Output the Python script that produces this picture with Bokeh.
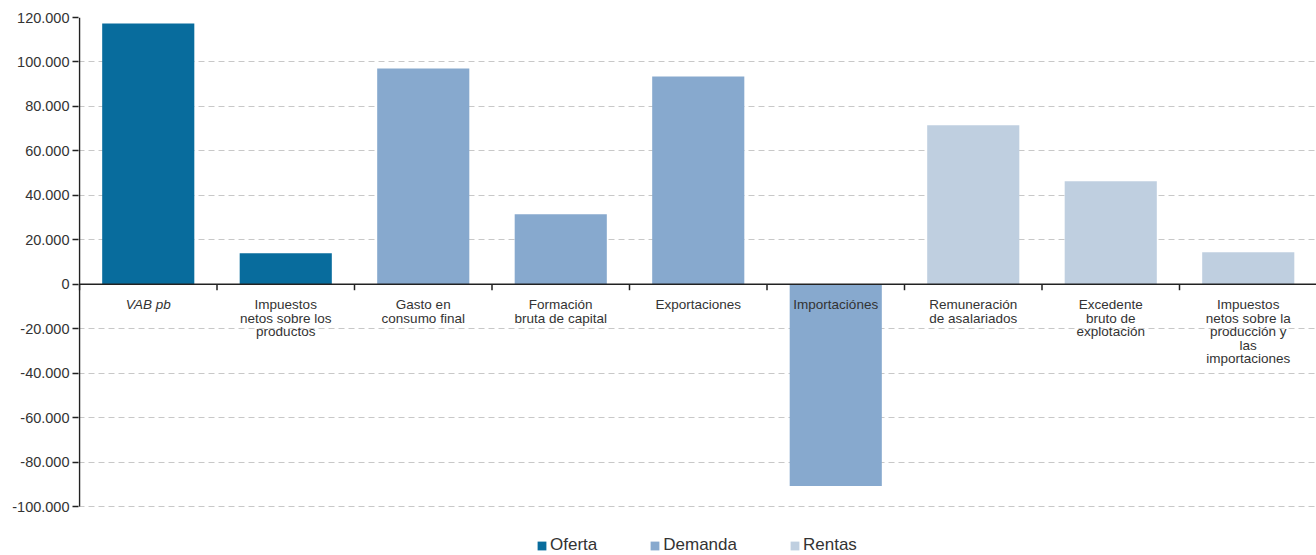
from bokeh.plotting import figure
from bokeh.models import (ColumnDataSource, Range1d, FixedTicker, CustomJSTickFormatter,
                          Span, Legend, LegendItem)
from bokeh.core.properties import value
from bokeh.embed import file_html
from bokeh.resources import INLINE

# ---- data ----
categories = [
    "VAB pb",
    "Impuestos\nnetos sobre los\nproductos",
    "Gasto en\nconsumo final",
    "Formación\nbruta de capital",
    "Exportaciones",
    "Importaciónes",
    "Remuneración\nde asalariados",
    "Excedente\nbruto de\nexplotación",
    "Impuestos\nnetos sobre la\nproducción y\nlas\nimportaciones",
]
values = [117300, 13900, 97100, 31500, 93500, -90800, 71500, 46300, 14400]
groups = ["Oferta", "Oferta", "Demanda", "Demanda", "Demanda", "Demanda",
          "Rentas", "Rentas", "Rentas"]
group_names = ["Oferta", "Demanda", "Rentas"]
group_colors = ["#086c9d", "#87a9ce", "#bfcfe0"]
label_styles = ["italic"] + ["normal"] * 8
y_ticks = [-100000, -80000, -60000, -40000, -20000, 0, 20000, 40000, 60000, 80000, 100000, 120000]

# ---- layout ----
W, H = 1316, 555
left_b, top_b = 78, 17
axis_px = 489            # pixel height of the tick span
band_px = 137.5          # pixel width of one category band
frame_w = W - left_b
frame_h = H - top_b
n = len(categories)
y0, y1 = y_ticks[0], y_ticks[-1]
per_px = (y1 - y0) / axis_px
y_start = y1 - frame_h * per_px
x_start = -1.0 / band_px
x_end = x_start + frame_w / band_px

p = figure(frame_width=frame_w, frame_height=frame_h, output_backend="svg", toolbar_location=None,
           x_range=Range1d(x_start, x_end), y_range=Range1d(y_start, y1),
           x_axis_location=None, min_border_left=left_b, min_border_right=0,
           min_border_top=top_b, min_border_bottom=0)
p.outline_line_color = None
p.xgrid.visible = False
p.ygrid.grid_line_color = "#c8c8c8"
p.ygrid.grid_line_dash = "6 4"
p.ygrid.grid_line_width = 1.2

ya = p.yaxis[0]
ya.ticker = FixedTicker(ticks=y_ticks)
ya.formatter = CustomJSTickFormatter(code="""
  const s = Math.abs(Math.round(tick)).toString().replace(/\\B(?=(\\d{3})+(?!\\d))/g, '.');
  return (tick < 0 ? '-' : '') + s;
""")
ya.axis_line_color = None
ya.major_tick_line_color = "#222222"
ya.major_tick_line_width = 1.5
ya.major_tick_out = 6
ya.major_tick_in = 0
ya.minor_tick_line_color = None
ya.major_label_text_font = "Liberation Sans"
ya.major_label_text_font_size = "14.5px"
ya.major_label_text_color = "#333333"
ya.major_label_standoff = 3

# y axis line limited to the tick span
p.segment(x0=[0], y0=[y0], x1=[0], y1=[y1], line_color="#222222", line_width=1.5)

renderers = []
for g, c in zip(group_names, group_colors):
    idx = [i for i in range(n) if groups[i] == g]
    src = ColumnDataSource(dict(x=[i + 0.5 for i in idx], top=[values[i] for i in idx]))
    r = p.vbar(x="x", top="top", bottom=0, width=0.67, source=src,
               fill_color=c, line_color=None)
    renderers.append(r)

# x axis line at zero
p.segment(x0=[0], y0=[0], x1=[n], y1=[0], line_color="#222222", line_width=1.5)

# ticks on zero line at category boundaries
tick_len = 6 * per_px
tsrc = ColumnDataSource(dict(x=list(range(n + 1)), y0=[0] * (n + 1), y1=[-tick_len] * (n + 1)))
p.segment(x0="x", y0="y0", x1="x", y1="y1", source=tsrc, line_color="#222222", line_width=1.5)

# category labels
lsrc = ColumnDataSource(dict(x=[i + 0.5 for i in range(n)], y=[0] * n,
                             t=categories, st=label_styles))
p.text(x="x", y="y", text="t", source=lsrc, text_align="center", text_baseline="top",
       y_offset=13, text_font=value("Liberation Sans"), text_font_size="13.5px",
       text_font_style="st", text_color="#333333", text_line_height=0.9)

legend = Legend(items=[LegendItem(label=g, renderers=[r]) for g, r in zip(group_names, renderers)],
                orientation="horizontal", location=(458, 0), spacing=52,
                glyph_width=11, glyph_height=11, label_standoff=3,
                label_text_font="Liberation Sans", label_text_font_size="17px",
                label_text_color="#333333", border_line_color=None,
                background_fill_alpha=0, padding=0, margin=0)
p.add_layout(legend, "center")

open("out.html", "w").write(file_html(p, INLINE))
